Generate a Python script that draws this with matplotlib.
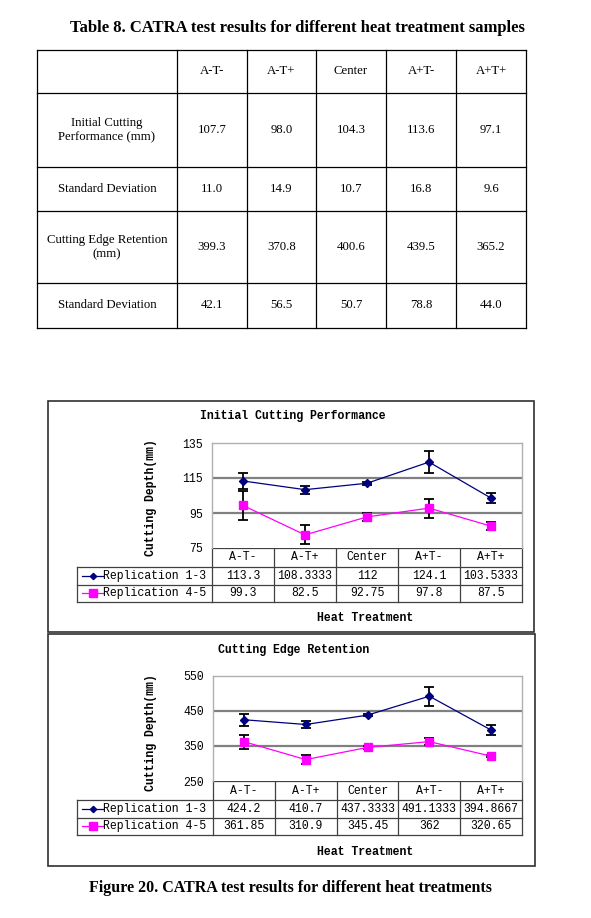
import matplotlib.pyplot as plt
from matplotlib.patches import Rectangle

W, H = 591, 918

# Table 8 values
samples = ["A-T-", "A-T+", "Center", "A+T-", "A+T+"]
row_names = ["Initial Cutting\nPerformance (mm)", "Standard Deviation",
             "Cutting Edge Retention\n(mm)", "Standard Deviation"]
icp_mean = [107.7, 98.0, 104.3, 113.6, 97.1]
icp_std = [11.0, 14.9, 10.7, 16.8, 9.6]
cer_mean = [399.3, 370.8, 400.6, 439.5, 365.2]
cer_std = [42.1, 56.5, 50.7, 78.8, 44.0]

# Figure 20 values (means from the data tables, error bars)
series = ["Replication 1-3", "Replication 4-5"]
icp_rep13 = [113.3, 108.3333, 112, 124.1, 103.5333]
icp_rep45 = [99.3, 82.5, 92.75, 97.8, 87.5]
icp_err13 = [4.5, 2.2, 1.0, 6.2, 2.8]
icp_err45 = [8.2, 5.4, 2.1, 5.4, 2.2]
cer_rep13 = [424.2, 410.7, 437.3333, 491.1333, 394.8667]
cer_rep45 = [361.85, 310.9, 345.45, 362, 320.65]
cer_err13 = [17, 9.5, 3, 26.7, 13]
cer_err45 = [20, 11.8, 4, 11, 3]

SERIF = "Liberation Serif"
MONO = "Liberation Mono"
NAVY = "#000080"
MAG = "#FF00FF"

fig = plt.figure(figsize=(W / 100, H / 100), dpi=100)
bg = fig.add_axes([0, 0, 1, 1])
bg.set_xlim(0, W)
bg.set_ylim(H, 0)
bg.axis("off")


def rect(x0, y0, x1, y1):
    return [x0 / W, 1 - y1 / H, (x1 - x0) / W, (y1 - y0) / H]


def fmt(v):
    s = f"{v:.4f}".rstrip("0").rstrip(".")
    return s


# ---- Table 8 ----
bg.text(297, 28, "Table 8. CATRA test results for different heat treatment samples",
        ha="center", va="center", family=SERIF, weight="bold", size=12)

cols = [37, 177, 247, 316, 386, 456, 526]
rows = [50, 93, 167, 211, 283, 328]
for x in cols:
    bg.plot([x, x], [rows[0], rows[-1]], color="black", lw=0.9)
for y in rows:
    bg.plot([cols[0], cols[-1]], [y, y], color="black", lw=0.9)

cx = [(cols[i] + cols[i + 1]) / 2 for i in range(len(cols) - 1)]
cy = [(rows[i] + rows[i + 1]) / 2 for i in range(len(rows) - 1)]
for j, s in enumerate(samples):
    bg.text(cx[j + 1], cy[0], s, ha="center", va="center", family=SERIF, size=9.2)
for i, (name, vals) in enumerate(zip(row_names, [icp_mean, icp_std, cer_mean, cer_std])):
    bg.text(cx[0], cy[i + 1], name, ha="center", va="center", family=SERIF, size=9.2,
            linespacing=1.2)
    for j, v in enumerate(vals):
        bg.text(cx[j + 1], cy[i + 1], f"{v:.1f}", ha="center", va="center",
                family=SERIF, size=9.2)


# ---- Figure 20 charts ----
def chart(frame, plot, title, ylim, yticks, m13, m45, e13, e45, title_y, ylab_y, xlab_y):
    fx0, fy0, fx1, fy1 = frame
    bg.add_patch(Rectangle((fx0, fy0), fx1 - fx0, fy1 - fy0, fill=False,
                           ec="#303030", lw=1.2))
    px0, py0, px1, py1 = plot
    ax = fig.add_axes(rect(px0, py0, px1, py1))
    ax.set_xlim(-0.5, 4.5)
    ax.set_ylim(*ylim)
    x = list(range(len(samples)))
    for t in yticks[1:-1]:
        ax.axhline(t, color="#808080", lw=1.6, zorder=0)
    ax.errorbar(x, m13, yerr=e13, color=NAVY, marker="D", ms=3.6, lw=0.9,
                ecolor="black", elinewidth=1.3, capsize=3.6, capthick=1.3, zorder=3)
    ax.errorbar(x, m45, yerr=e45, color=MAG, marker="s", ms=5.2, lw=0.9,
                ecolor="black", elinewidth=1.3, capsize=3.6, capthick=1.3, zorder=3)
    ax.set_xticks([])
    ax.set_yticks(yticks)
    ax.set_yticklabels([str(t) for t in yticks], family=MONO, size=8.3)
    ax.tick_params(axis="y", length=0, pad=6.5)
    for sp in ax.spines.values():
        sp.set_color("#b0b0b0")
        sp.set_linewidth(1.0)
    ax.spines["bottom"].set_visible(False)

    bg.text((fx0 + fx1) / 2 + 2, title_y, title, ha="center", va="center",
            family=MONO, weight="bold", size=8.3)
    bg.text(151, ylab_y, "Cutting Depth(mm)", ha="center", va="center",
            rotation=90, family=MONO, weight="bold", size=8.3)
    bg.text(365, xlab_y, "Heat Treatment", ha="center", va="center",
            family=MONO, weight="bold", size=8.3)

    # data table under the plot
    cw = (px1 - px0) / len(samples)
    edges = [px0 + i * cw for i in range(len(samples) + 1)]
    r = [py1, py1 + 19, py1 + 36.5, py1 + 53.5]
    lc = "#404040"
    bg.plot([px0, px1], [r[0], r[0]], color=lc, lw=0.9)
    for y in r[1:]:
        bg.plot([77, px1], [y, y], color=lc, lw=0.9)
    for xe in edges:
        bg.plot([xe, xe], [r[0], r[-1]], color=lc, lw=0.9)
    bg.plot([77, 77], [r[1], r[-1]], color=lc, lw=0.9)
    for j, s in enumerate(samples):
        xc = (edges[j] + edges[j + 1]) / 2
        bg.text(xc, (r[0] + r[1]) / 2, s, ha="center", va="center", family=MONO, size=8.3)
        bg.text(xc, (r[1] + r[2]) / 2, fmt(m13[j]), ha="center", va="center",
                family=MONO, size=8.3)
        bg.text(xc, (r[2] + r[3]) / 2, fmt(m45[j]), ha="center", va="center",
                family=MONO, size=8.3)
    for k, (name, col, mk, ms) in enumerate(zip(series, [NAVY, MAG], ["D", "s"], [3.2, 5.2])):
        yc = (r[k + 1] + r[k + 2]) / 2
        bg.plot([82, 103], [yc, yc], color=col, lw=0.9)
        bg.plot([92.5], [yc], color=col, marker=mk, ms=ms)
        bg.text(103, yc, name, ha="left", va="center", family=MONO, size=8.3)


chart((48, 400.5, 534, 632), (212, 443, 522, 548), "Initial Cutting Performance",
      (75, 135), [75, 95, 115, 135], icp_rep13, icp_rep45, icp_err13, icp_err45,
      416.5, 498, 618)
chart((48, 634, 535, 866), (213, 675.5, 522, 781), "Cutting Edge Retention",
      (250, 550), [250, 350, 450, 550], cer_rep13, cer_rep45, cer_err13, cer_err45,
      650, 733, 852)

bg.text(290, 888, "Figure 20. CATRA test results for different heat treatments",
        ha="center", va="center", family=SERIF, weight="bold", size=11.5)

fig.savefig("out.png", dpi=100)
